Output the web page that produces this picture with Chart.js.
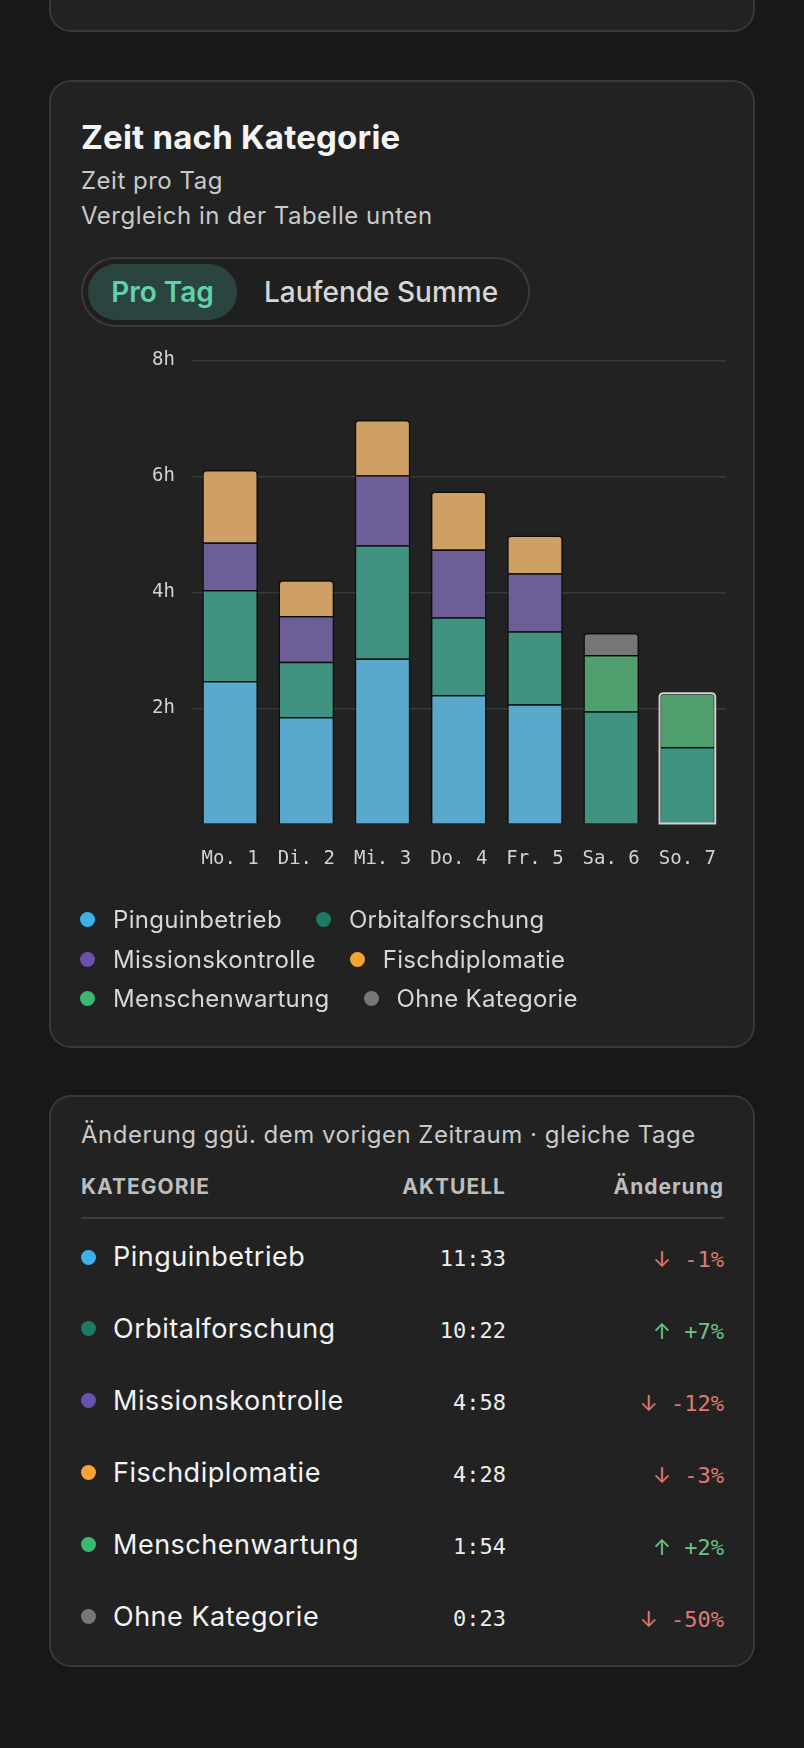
<!DOCTYPE html>
<html lang="de">
<head>
<meta charset="UTF-8">
<title>Zeit nach Kategorie</title>
<script src="https://cdn.jsdelivr.net/npm/chart.js@4.4.1/dist/chart.umd.min.js"></script>
<style>
  html, body { margin: 0; padding: 0; }
  body { background: #181818; width: 804px; height: 1748px; position: relative; overflow: hidden;
         font-family: Inter, "Noto Sans", sans-serif; color: #d8d8d8; }
  .card { position: absolute; left: 49px; width: 706px; box-sizing: border-box;
          background: #222222; border: 2px solid #383838; border-radius: 22px; }
  .abs { position: absolute; white-space: nowrap; }
  .title { left: 81px; top: 118px; font-size: 33px; line-height: 38px; font-weight: 700; color: #f4f4f4; letter-spacing: 0.2px; }
  .sub { left: 81px; top: 163px; font-size: 24px; line-height: 35px; color: #c9c9c9; letter-spacing: 0.5px; }
  .toggle { left: 81px; top: 257px; width: 449px; height: 70px; box-sizing: border-box;
            border: 2px solid #3a3a3a; border-radius: 35px; background: #1f1f1f; }
  .tab-on { position: absolute; left: 5px; top: 5px; width: 149px; height: 56px; border-radius: 28px;
            background: #2a4540; color: #5fd2ae; font-size: 28px; font-weight: 600;
            line-height: 56px; text-align: center; }
  .tab-off { position: absolute; left: 181px; top: 5px; height: 56px; line-height: 56px;
             font-size: 28px; font-weight: 500; color: #d6d6d6; }
  #chartBox { position: absolute; left: 80px; top: 332px; width: 659px; height: 577px; }
  #legend { left: 80px; top: 900px; width: 580px; display: flex; flex-wrap: wrap; white-space: normal; }
  .lg { display: flex; align-items: center; height: 39.5px; margin-right: 34px; font-size: 24px;
        letter-spacing: 0.3px; color: #d6d6d6; white-space: nowrap; }
  .dot { display: inline-block; width: 15px; height: 15px; border-radius: 50%; margin-right: 18px; flex: none; }
  .tblhead { left: 81px; top: 1117px; font-size: 24px; line-height: 35px; color: #c9c9c9; letter-spacing: 0.5px; }
  .th { top: 1175px; font-size: 21px; line-height: 24px; font-weight: 700; color: #bdbdbd; letter-spacing: 1px; }
  .rule { left: 81px; top: 1217px; width: 643px; height: 2px; background: #3d3d3d; }
  .row { position: absolute; left: 81px; width: 643px; height: 30px; }
  .row .dot { position: absolute; left: 0; top: 7.5px; margin: 0; }
  .row .nm { position: absolute; left: 32px; top: 0; font-size: 27px; line-height: 30px; color: #f2f2f2; letter-spacing: 0.5px; }
  .row .val { position: absolute; right: 218px; top: 2px; font-family: "DejaVu Sans Mono", monospace;
              font-size: 22px; line-height: 30px; color: #ececec; }
  .row .chg { position: absolute; right: 0; top: 2px; font-family: "DejaVu Sans Mono", monospace;
              font-size: 22px; line-height: 30px; }
  .row .arr { font-family: Inter, sans-serif; font-size: 22px; }
</style>
</head>
<body>
<div class="card" style="top:-40px;height:72px;"></div>

<div class="card" style="top:80px;height:968px;"></div>
<div class="abs title">Zeit nach Kategorie</div>
<div class="abs sub">Zeit pro Tag<br>Vergleich in der Tabelle unten</div>
<div class="abs toggle">
  <div class="tab-on">Pro Tag</div>
  <div class="tab-off">Laufende Summe</div>
</div>
<div id="chartBox"><canvas id="chart"></canvas></div>
<div class="abs" id="legend"></div>

<div class="card" style="top:1095px;height:572px;"></div>
<div class="abs tblhead">Änderung ggü. dem vorigen Zeitraum · gleiche Tage</div>
<div class="abs th" style="left:81px;">KATEGORIE</div>
<div class="abs th" style="right:298px;">AKTUELL</div>
<div class="abs th" style="right:80px;">Änderung</div>
<div class="abs rule"></div>
<div id="rows"></div>

<script>
    // days on the x axis
    const days = ['Mo. 1', 'Di. 2', 'Mi. 3', 'Do. 4', 'Fr. 5', 'Sa. 6', 'So. 7'];
    // hours per day and category
    const pinguin  = [2.47, 1.85, 2.86, 2.23, 2.07, null, null];
    const orbital  = [1.57, 0.95, 1.95, 1.34, 1.26, 1.95, 1.33];
    const mission  = [0.82, 0.79, 1.21, 1.17, 1.00, null, null];
    const fisch    = [1.25, 0.62, 0.95, 1.00, 0.65, null, null];
    const menschen = [null, null, null, null, null, 0.97, 0.93];
    const ohne     = [null, null, null, null, null, 0.38, null];

    const categories = ['Pinguinbetrieb', 'Orbitalforschung', 'Missionskontrolle', 'Fischdiplomatie', 'Menschenwartung', 'Ohne Kategorie'];
    const dotColors = ['#3db2e9', '#1f7a63', '#6951b0', '#f7a235', '#3cb870', '#777777'];
    const barColors = ['#5aa9cc', '#3f9380', '#6e5e98', '#cfa064', '#4f9f6f', '#767676'];

    // table
    const totals = ['11:33', '10:22', '4:58', '4:28', '1:54', '0:23'];
    const changes = [-1, 7, -12, -3, 2, -50];

    const yTicks = [0, 2, 4, 6, 8];
    const highlightDay = 6;

    const series = [pinguin, orbital, mission, fisch, menschen, ohne];

    // legend
    const legend = document.getElementById('legend');
    categories.forEach((c, i) => {
        const el = document.createElement('div');
        el.className = 'lg';
        el.innerHTML = '<span class="dot" style="background:' + dotColors[i] + '"></span>' + c;
        legend.appendChild(el);
    });

    // table rows
    const rows = document.getElementById('rows');
    categories.forEach((c, i) => {
        const r = document.createElement('div');
        r.className = 'row';
        r.style.top = (1242 + i * 71.9) + 'px';
        const up = changes[i] > 0;
        const txt = '<span class="arr">' + (up ? '↑' : '↓') + '</span> ' + (up ? '+' : '') + changes[i] + '%';
        r.innerHTML = '<span class="dot" style="background:' + dotColors[i] + '"></span>' +
            '<span class="nm">' + c + '</span>' +
            '<span class="val">' + totals[i] + '</span>' +
            '<span class="chg" style="color:' + (up ? '#6cc489' : '#e07a72') + '">' + txt + '</span>';
        rows.appendChild(r);
    });

    // outline round the current day's stack
    const highlight = {
        id: 'highlight',
        afterDatasetsDraw(chart) {
            let top = Infinity, base = -Infinity, x = 0, w = 0;
            chart.data.datasets.forEach((d, i) => {
                const el = chart.getDatasetMeta(i).data[highlightDay];
                if (!el || d.data[highlightDay] == null) return;
                const p = el.getProps(['x', 'y', 'base', 'width'], true);
                top = Math.min(top, p.y);
                base = Math.max(base, p.base);
                x = p.x; w = p.width;
            });
            if (top === Infinity) return;
            const c = chart.ctx;
            const l = x - w / 2, r = x + w / 2, rad = 4;
            c.save();
            c.strokeStyle = '#d2d2d2';
            c.lineWidth = 2;
            c.beginPath();
            c.moveTo(l, base);
            c.lineTo(l, top + rad);
            c.quadraticCurveTo(l, top, l + rad, top);
            c.lineTo(r - rad, top);
            c.quadraticCurveTo(r, top, r, top + rad);
            c.lineTo(r, base);
            c.closePath();
            c.stroke();
            c.restore();
        }
    };

    const ctx = document.getElementById('chart').getContext('2d');
    const myChart = new Chart(ctx, {
        type: 'bar',
        data: {
            labels: days,
            datasets: series.map((s, i) => ({
                label: categories[i],
                data: s,
                backgroundColor: barColors[i],
                borderColor: 'rgba(0,0,0,0.6)',
                borderWidth: 1.5,
                borderRadius: 4,
                barPercentage: 0.73,
                categoryPercentage: 1
            }))
        },
        options: {
            responsive: true,
            maintainAspectRatio: false,
            animation: false,
            layout: { padding: { top: 21, bottom: 16, left: 0, right: 0 } },
            plugins: {
                legend: { display: false },
                tooltip: { enabled: false }
            },
            scales: {
                x: {
                    stacked: true,
                    grid: { display: false, drawTicks: false },
                    border: { display: false },
                    ticks: {
                        color: '#d2d2d2',
                        padding: 23,
                        font: { family: 'DejaVu Sans Mono', size: 19 }
                    }
                },
                y: {
                    stacked: true,
                    min: yTicks[0],
                    max: yTicks[yTicks.length - 1],
                    afterFit: (scale) => { scale.width = 112; },
                    afterBuildTicks: (scale) => { scale.ticks = yTicks.map(v => ({ value: v })); },
                    grid: {
                        drawTicks: false,
                        lineWidth: 1.5,
                        color: (c) => c.tick && c.tick.value === 0 ? 'rgba(0,0,0,0)' : '#3a3a3a'
                    },
                    border: { display: false },
                    ticks: {
                        color: '#d2d2d2',
                        padding: 17,
                        font: { family: 'DejaVu Sans Mono', size: 19 },
                        callback: (v) => v === 0 ? '' : v + 'h'
                    }
                }
            }
        },
        plugins: [highlight]
    });
</script>
</body>
</html>
